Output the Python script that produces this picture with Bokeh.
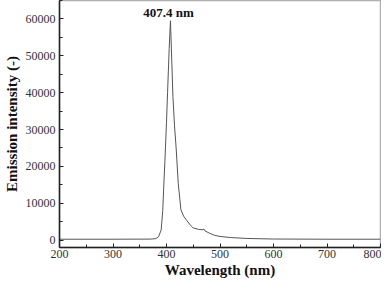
from bokeh.plotting import figure
from bokeh.models import Range1d, SingleIntervalTicker, Label
from bokeh.embed import file_html
from bokeh.resources import INLINE

wavelength = [200, 300, 370, 380, 385, 390, 393, 395, 397, 400, 402, 405, 407.4, 410, 412, 415,
              418, 422, 427, 432, 438, 445, 450, 460, 468, 470, 472, 480, 490, 500, 520, 550,
              600, 700, 800]
intensity = [250, 250, 280, 400, 900, 2700, 8000, 15000, 21400, 32000, 40000, 52000, 59500,
             48000, 39000, 31000, 25000, 15300, 8200, 6500, 5300, 4000, 3300, 2900, 2800, 3000,
             2500, 1900, 1300, 1000, 700, 450, 300, 250, 250]
peak_label = "407.4 nm"
peak_x = 404
peak_y = 61800

SERIF = "Liberation Serif"

p = figure(width=381, height=280, output_backend="svg", toolbar_location=None,
           x_range=Range1d(200, 800), y_range=Range1d(-2000, 65000),
           min_border_left=0, min_border_right=1, min_border_top=0, min_border_bottom=0)

p.line(wavelength, intensity, line_color="#555555", line_width=1)

p.add_layout(Label(x=peak_x, y=peak_y, text=peak_label, text_align="center",
                   text_baseline="middle", text_font=SERIF, text_font_size="13px",
                   text_font_style="bold", text_color="#111111"))

p.grid.visible = False
p.outline_line_color = "#b0b0b0"
p.outline_line_width = 1.5

p.xaxis.ticker = SingleIntervalTicker(interval=100, num_minor_ticks=2)
p.yaxis.ticker = SingleIntervalTicker(interval=10000, num_minor_ticks=2)

for ax in (p.xaxis[0], p.yaxis[0]):
    ax.axis_line_color = "#222222"
    ax.axis_line_width = 1.5
    ax.major_tick_in = 4
    ax.major_tick_out = 0
    ax.minor_tick_in = 3
    ax.minor_tick_out = 0
    ax.major_tick_line_color = "#222222"
    ax.minor_tick_line_color = "#222222"
    ax.major_label_text_font = SERIF
    ax.major_label_text_font_size = "12px"
    ax.major_label_text_color = "#333333"
    ax.major_label_standoff = 3
    ax.axis_label_text_font = SERIF
    ax.axis_label_text_font_size = "15px"
    ax.axis_label_text_font_style = "bold"
    ax.axis_label_text_color = "#111111"
    ax.axis_label_standoff = 3

p.xaxis.major_label_standoff = 2
p.xaxis.axis_label_standoff = 1
p.yaxis.major_label_standoff = 4

p.xaxis.axis_label = "Wavelength (nm)"
p.yaxis.axis_label = "Emission intensity (-)"

open("out.html", "w").write(file_html(p, INLINE))
